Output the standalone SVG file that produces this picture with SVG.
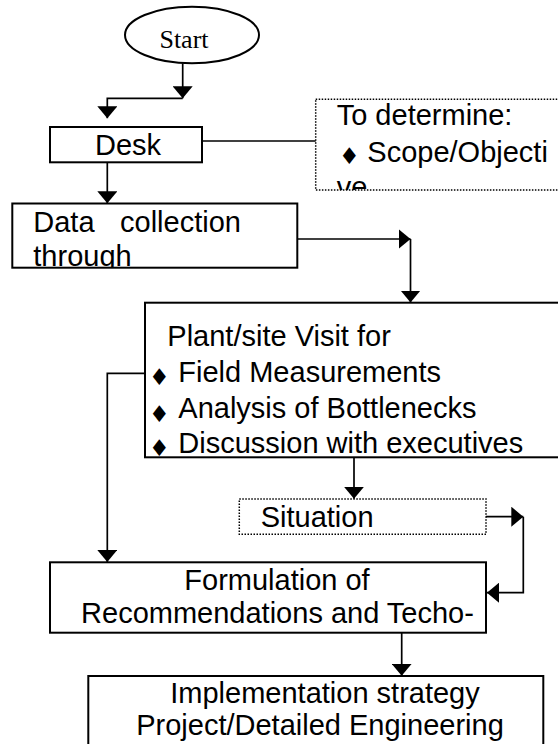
<svg xmlns="http://www.w3.org/2000/svg" width="558" height="744" viewBox="0 0 558 744">
<style>
.box{fill:#fff;stroke:#000;stroke-width:2}
.dot{fill:#fff;stroke:#000;stroke-width:1.5;stroke-dasharray:1.5 1.5}
.t{font-family:"Liberation Sans",Arial,sans-serif;font-size:29px;fill:#000}
.s{font-family:"Liberation Serif","Times New Roman",serif;font-size:26px;fill:#000}
.b{font-family:"DejaVu Sans",sans-serif;font-size:23px;fill:#000}
.c{fill:none;stroke:#000;stroke-width:1.7}
.m{text-anchor:middle}
</style>
<defs>
<marker id="ah" markerUnits="userSpaceOnUse" markerWidth="12" markerHeight="20" refX="12" refY="10" orient="auto">
<path d="M0,0 L12,10 L0,20 z" fill="#000"/>
</marker>
<clipPath id="cpDet"><rect x="315.7" y="99.3" width="260" height="90.7"/></clipPath>
<clipPath id="cpData"><rect x="12.3" y="203.5" width="285" height="64.2"/></clipPath>
</defs>

<g id="start">
<ellipse cx="192" cy="35" rx="67" ry="28.3" class="box"/>
<text x="184" y="48" class="s m">Start</text>
</g>

<g id="desk">
<rect x="50" y="127" width="152" height="35.3" class="box"/>
<text x="95" y="155" class="t">Desk</text>
</g>

<g id="determine">
<rect x="315.7" y="99.3" width="260" height="90.7" class="dot"/>
<g clip-path="url(#cpDet)">
<text x="336.7" y="125" class="t">To determine:</text>
<text x="339" y="163.5" class="b">♦</text>
<text x="367.3" y="161.7" class="t">Scope/Objecti</text>
<text x="336.7" y="197" class="t">ve</text>
</g>
</g>

<g id="data">
<rect x="12.3" y="203.5" width="285" height="64.2" class="box"/>
<g clip-path="url(#cpData)">
<text y="231.7" class="t"><tspan x="33.3">Data</tspan> <tspan x="120">collection</tspan></text>
<text x="33.3" y="266" class="t">through</text>
</g>
</g>

<g id="plant">
<rect x="145" y="302.7" width="430" height="154.6" class="box"/>
<text x="167.3" y="346" class="t">Plant/site Visit for</text>
<text x="149" y="385" class="b">♦</text>
<text x="178.3" y="381.7" class="t">Field Measurements</text>
<text x="149" y="421.6" class="b">♦</text>
<text x="178.3" y="418.3" class="t">Analysis of Bottlenecks</text>
<text x="149" y="456" class="b">♦</text>
<text x="178.3" y="452.7" class="t">Discussion with executives</text>
</g>

<g id="situation">
<rect x="239.3" y="499" width="246.7" height="35.3" class="dot"/>
<text x="260.7" y="526.7" class="t">Situation</text>
</g>

<g id="formulation">
<rect x="50" y="562.3" width="436" height="70.4" class="box"/>
<text x="277" y="590" class="t m">Formulation of</text>
<text x="277.5" y="623.3" class="t m">Recommendations and Techo-</text>
</g>

<g id="implementation">
<rect x="88.3" y="676" width="455" height="90" class="box"/>
<text x="325" y="703.3" class="t m">Implementation strategy</text>
<text x="320" y="735" class="t m">Project/Detailed Engineering</text>
</g>

<g id="connectors">
<path d="M182.7,63.3 V98.3" class="c" marker-end="url(#ah)"/>
<path d="M182.7,98.3 H107.3 V118.3" class="c" marker-end="url(#ah)"/>
<path d="M107.3,162.3 V203.3" class="c" marker-end="url(#ah)"/>
<path d="M202,141 H315.7" class="c"/>
<path d="M297.3,239 H410.5" class="c" marker-end="url(#ah)"/>
<path d="M410.5,239 V302.5" class="c" marker-end="url(#ah)"/>
<path d="M145,373.3 H107.3 V562" class="c" marker-end="url(#ah)"/>
<path d="M354,457.3 V498.8" class="c" marker-end="url(#ah)"/>
<path d="M486,516.7 H523.3" class="c" marker-end="url(#ah)"/>
<path d="M523.3,516.7 V592.7 H487" class="c" marker-end="url(#ah)"/>
<path d="M401.7,632.7 V675.8" class="c" marker-end="url(#ah)"/>
</g>
</svg>
